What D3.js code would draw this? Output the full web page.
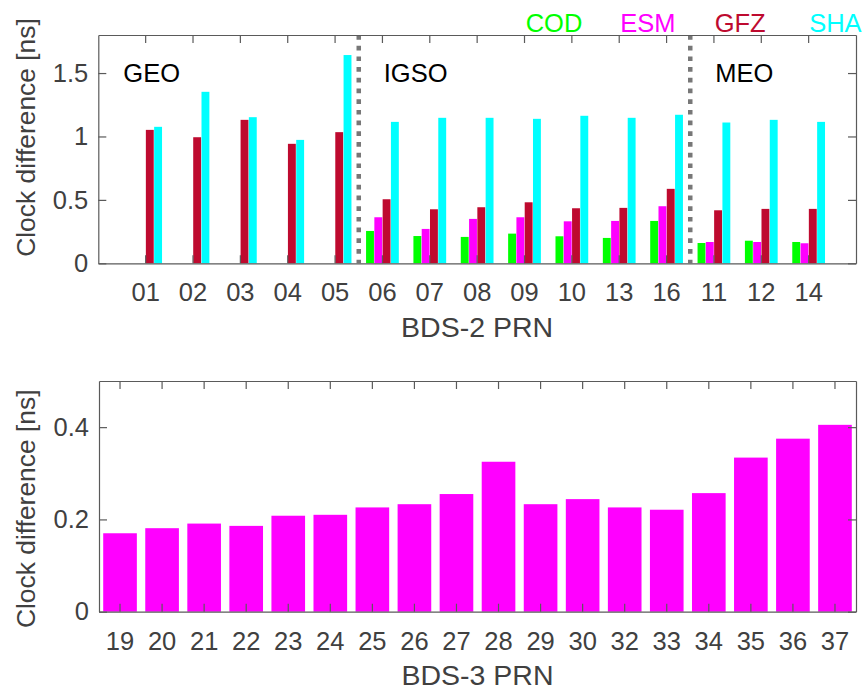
<!DOCTYPE html>
<html>
<head>
<meta charset="utf-8">
<script src="https://cdn.jsdelivr.net/npm/d3@7"></script>
<style>
  html, body { margin: 0; padding: 0; background: #fff; }
  svg { display: block; font-family: Arial, "Liberation Sans", Helvetica, sans-serif; }
  .axis path, .axis line { stroke: #5a5a5a; stroke-width: 1.2; }
  .axis text { fill: #404040; font-size: 25.5px; }
</style>
</head>
<body>
<svg id="chart" width="863" height="691"></svg>
<script>
// ---- BDS-2 clock differences by analysis centre ----
const bds2Prn = ["01","02","03","04","05","06","07","08","09","10","13","16","11","12","14"];
const centres = ["COD","ESM","GFZ","SHA"];
const centreColors = ["#00ff00","#ff00ff","#be0a2f","#00ffff"];
const codValues = [0,0,0,0,0,0.255,0.215,0.208,0.234,0.213,0.200,0.334,0.160,0.178,0.168];
const esmValues = [0,0,0,0,0,0.363,0.271,0.350,0.363,0.331,0.334,0.450,0.168,0.168,0.158];
const gfzValues = [1.052,0.994,1.131,0.942,1.034,0.505,0.426,0.442,0.481,0.434,0.437,0.587,0.418,0.429,0.429];
const shaValues = [1.076,1.352,1.152,0.973,1.642,1.115,1.147,1.147,1.139,1.163,1.147,1.171,1.110,1.131,1.115];
const bds2YTicks = [0,0.5,1,1.5];
// orbit type groups: label, first PRN of the group
const orbitGroups = [["GEO","01"],["IGSO","06"],["MEO","11"]];

// ---- BDS-3 clock differences ----
const bds3Prn = ["19","20","21","22","23","24","25","26","27","28","29","30","32","33","34","35","36","37"];
const bds3Values = [0.170,0.181,0.191,0.186,0.208,0.210,0.226,0.233,0.255,0.325,0.233,0.244,0.226,0.221,0.257,0.334,0.375,0.405];
const bds3YTicks = [0,0.2,0.4];

const svg = d3.select("#chart");
const fmt = d => d3.format("~g")(d);

function frame(g, x, y, yTicks, w, h) {
  g.append("g").attr("class","axis").attr("transform",`translate(0,${h})`)
    .call(d3.axisBottom(x).tickSize(-8).tickPadding(20).tickSizeOuter(0));
  g.append("g").attr("class","axis")
    .call(d3.axisTop(x).tickSize(-8).tickFormat("").tickSizeOuter(0));
  g.append("g").attr("class","axis")
    .call(d3.axisLeft(y).tickValues(yTicks).tickFormat(fmt).tickSize(-8).tickPadding(10).tickSizeOuter(0));
  g.append("g").attr("class","axis").attr("transform",`translate(${w},0)`)
    .call(d3.axisRight(y).tickValues(yTicks).tickFormat("").tickSize(-8).tickSizeOuter(0));
}

function yTitle(cy) {
  svg.append("text").attr("transform",`translate(35,${cy}) rotate(-90)`)
    .attr("text-anchor","middle").attr("font-size",26.4).attr("fill","#404040")
    .text("Clock difference [ns]");
}

// ================= Top panel =================
{
  const m = {left: 98.3, top: 35, right: 856, bottom: 263.3};
  const w = m.right - m.left, h = m.bottom - m.top;
  const g = svg.append("g").attr("transform",`translate(${m.left},${m.top})`);
  const x0 = d3.scaleBand().domain(bds2Prn).range([0,w]).paddingInner(0.3).paddingOuter(0.65);
  const x1 = d3.scaleBand().domain(centres).range([0,x0.bandwidth()]);
  const y = d3.scaleLinear().domain([0,1.8]).range([h,0]);
  const series = [codValues, esmValues, gfzValues, shaValues];

  centres.forEach((c,ci) => {
    g.append("g").selectAll("rect").data(bds2Prn).join("rect")
      .attr("x", p => x0(p) + x1(c) + 0.2)
      .attr("width", x1.bandwidth() - 0.4)
      .attr("y", (p,i) => y(series[ci][i]))
      .attr("height", (p,i) => h - y(series[ci][i]))
      .attr("fill", centreColors[ci]);
  });

  // dotted separators between orbit groups
  orbitGroups.slice(1).forEach(([lab, prn]) => {
    const xs = x0(prn) - x0.step() * x0.paddingInner() / 2;
    g.append("line").attr("x1", xs).attr("x2", xs).attr("y1", 0).attr("y2", h)
      .attr("stroke","#777").attr("stroke-width",4.5).attr("stroke-dasharray","4.7 6");
  });

  frame(g, x0, y, bds2YTicks, w, h);

  orbitGroups.forEach(([lab, prn]) => {
    const xl = lab === "GEO" ? 25 : x0(prn) - x0.step() * x0.paddingInner() / 2 + 25;
    g.append("text").attr("x", xl).attr("y", y(1.5))
      .attr("dy","0.35em").attr("font-size",25.5).attr("fill","#000").text(lab);
  });

  g.append("text").attr("x", w/2).attr("y", h + 74)
    .attr("text-anchor","middle").attr("font-size",28.5).attr("fill","#404040").text("BDS-2 PRN");
  yTitle(137.5);

  // legend: coloured centre names
  const lg = svg.append("g");
  centres.forEach((c,i) => {
    lg.append("text").attr("x", 525.7 + i*94.5).attr("y", 32)
      .attr("font-size",25.5).attr("fill",centreColors[i]).text(c);
  });
}

// ================= Bottom panel =================
{
  const m = {left: 99, top: 381, right: 856, bottom: 611.7};
  const w = m.right - m.left, h = m.bottom - m.top;
  const g = svg.append("g").attr("transform",`translate(${m.left},${m.top})`);
  const x = d3.scaleBand().domain(bds3Prn).range([0,w]).paddingInner(0.2).paddingOuter(0.1);
  const y = d3.scaleLinear().domain([0,0.5]).range([h,0]);

  g.append("g").selectAll("rect").data(bds3Values).join("rect")
    .attr("x", (d,i) => x(bds3Prn[i]))
    .attr("width", x.bandwidth())
    .attr("y", d => y(d))
    .attr("height", d => h - y(d))
    .attr("fill","#ff00ff");

  frame(g, x, y, bds3YTicks, w, h);

  g.append("text").attr("x", w/2).attr("y", h + 73.5)
    .attr("text-anchor","middle").attr("font-size",28.5).attr("fill","#404040").text("BDS-3 PRN");
  yTitle(508.8);
}
</script>
</body>
</html>
